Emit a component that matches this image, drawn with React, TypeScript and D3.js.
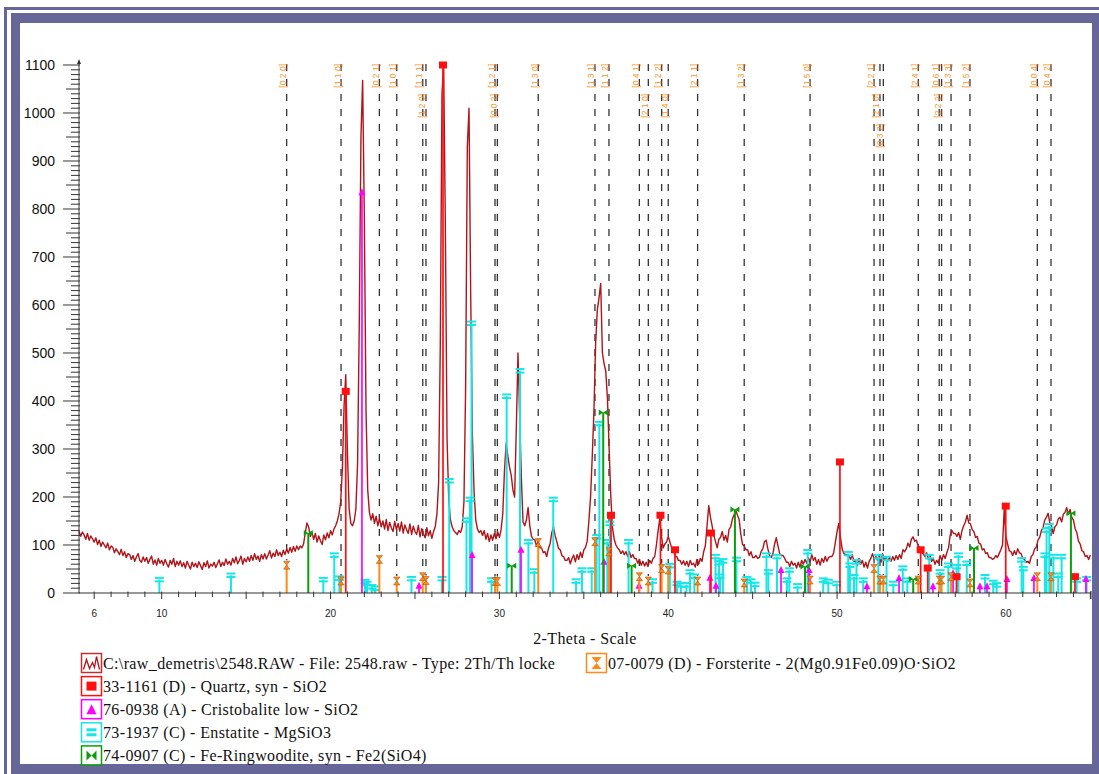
import React from "react";
import * as d3 from "d3";

// raw scan, constant step
const scanStart = 5.1;
const scanStep = 0.1;
const scanCounts = [
  128, 118, 127, 121, 112, 124, 110, 119, 113, 106,
  115, 101, 110, 97, 106, 100, 94, 104, 90, 98,
  95, 84, 92, 86, 80, 91, 78, 86, 74, 82,
  80, 70, 78, 66, 75, 82, 68, 64, 75, 66,
  74, 62, 70, 77, 60, 69, 58, 72, 62, 68,
  58, 70, 61, 54, 68, 60, 72, 55, 66, 58,
  67, 55, 63, 52, 66, 58, 50, 64, 55, 62,
  53, 65, 57, 49, 63, 55, 67, 52, 60, 56,
  64, 53, 61, 69, 55, 64, 57, 71, 60, 66,
  58, 72, 63, 75, 61, 68, 77, 60, 72, 65,
  75, 66, 78, 68, 82, 70, 77, 66, 80, 71,
  82, 71, 79, 88, 73, 83, 76, 90, 78, 85,
  76, 89, 80, 92, 83, 95, 85, 97, 87, 98,
  90, 98, 94, 102, 125, 146, 138, 118, 126, 112,
  124, 106, 119, 109, 101, 121, 111, 125, 115, 130,
  121, 133, 140, 150, 165, 190, 260, 390, 455, 290,
  175, 145, 140, 150, 175, 270, 560, 950, 1068, 780,
  380, 215, 168, 152, 165, 145, 160, 140, 155, 138,
  150, 133, 153, 130, 147, 136, 128, 149, 132, 145,
  129, 148, 125, 142, 132, 124, 144, 122, 139, 128,
  122, 141, 117, 134, 124, 115, 136, 119, 130, 114,
  128, 138, 165, 230, 520, 1040, 1100, 760, 320, 195,
  152, 138, 130, 126, 122, 130, 126, 138, 190, 430,
  930, 1010, 620, 330, 210, 152, 133, 126, 130, 120,
  130, 112, 124, 107, 121, 110, 124, 113, 127, 116,
  132, 165, 255, 312, 285, 262, 245, 215, 200, 340,
  500, 370, 240, 148, 140, 152, 178, 140, 118, 112,
  110, 98, 108, 94, 94, 84, 86, 76, 92, 102,
  125, 138, 120, 107, 93, 90, 78, 76, 68, 68,
  74, 61, 72, 79, 65, 80, 70, 85, 74, 90,
  95, 108, 150, 200, 285, 380, 520, 590, 615, 645,
  500, 478, 462, 405, 300, 200, 135, 112, 100, 94,
  90, 82, 88, 80, 86, 76, 86, 74, 80, 72,
  72, 62, 70, 58, 66, 56, 64, 55, 68, 62,
  72, 76, 100, 130, 155, 118, 94, 102, 106, 118,
  106, 94, 90, 78, 76, 68, 68, 60, 67, 58,
  66, 55, 68, 59, 62, 54, 70, 60, 72, 66,
  86, 99, 140, 182, 158, 140, 120, 107, 94, 112,
  116, 128, 110, 120, 106, 132, 138, 154, 163, 172,
  162, 153, 122, 101, 98, 90, 90, 78, 86, 74,
  74, 78, 72, 74, 86, 92, 107, 110, 92, 78,
  74, 82, 102, 115, 98, 82, 78, 78, 72, 64,
  64, 55, 66, 58, 62, 52, 64, 54, 68, 60,
  70, 62, 74, 64, 80, 68, 74, 60, 70, 58,
  72, 64, 76, 66, 74, 76, 76, 84, 106, 128,
  145, 116, 92, 82, 80, 80, 78, 70, 80, 66,
  66, 58, 72, 60, 68, 54, 64, 52, 66, 72,
  82, 70, 76, 68, 80, 64, 82, 68, 74, 66,
  74, 66, 76, 68, 78, 70, 80, 72, 90, 86,
  92, 104, 96, 112, 117, 108, 110, 99, 94, 84,
  82, 76, 84, 70, 78, 66, 72, 60, 68, 62,
  78, 68, 80, 72, 84, 94, 120, 130, 124, 124,
  118, 126, 112, 130, 140, 148, 162, 146, 144, 132,
  128, 116, 118, 104, 102, 90, 92, 82, 84, 74,
  74, 70, 72, 78, 74, 82, 90, 100, 174, 118,
  102, 88, 86, 78, 88, 80, 92, 84, 82, 72,
  70, 64, 66, 62, 76, 80, 92, 96, 110, 116,
  130, 136, 152, 158, 166, 146, 140, 124, 138, 142,
  154, 158, 148, 164, 168, 178, 164, 174, 158, 152,
  134, 126, 108, 102, 88, 86, 76, 78, 70, 79,
];

// 33-1161 Quartz
const quartzTheta = [20.9, 26.66, 36.61, 39.54, 40.4, 42.53, 50.17, 54.95, 55.37, 57.08, 59.99, 64.09];
const quartzCounts = [420, 1100, 162, 162, 90, 125, 273, 90, 52, 34, 181, 34];

// 76-0938 Cristobalite low
const cristobaliteTheta = [21.86, 25.24, 28.38, 31.28, 36.19, 38.27, 42.47, 42.83, 46.68, 48.34, 51.77, 53.67, 55.68, 56.87, 58.46, 58.88, 60.06, 61.66, 64.74];
const cristobaliteCounts = [835, 15, 79, 90, 65, 15, 32, 15, 48, 48, 14, 31, 14, 41, 14, 14, 29, 31, 29];

// 73-1937 Enstatite
const enstatiteTheta = [
  9.86, 14.1, 19.57, 20.22, 20.52, 22.04, 22.16, 22.44, 22.63, 24.79,
  26.6, 27.03, 28.05, 28.26, 28.35, 29.53, 30.43, 31.22, 31.72, 32.07,
  33.19, 34.54, 34.89, 35.47, 35.76, 35.92, 36.39, 36.55, 37.65, 39.07,
  40.1, 40.52, 40.75, 41.08, 41.29, 41.55, 42.8, 43.01, 43.07, 43.24,
  44.04, 44.66, 44.9, 45.14, 45.82, 45.93, 46.44, 47.03, 47.17, 47.66,
  48.26, 49.18, 49.48, 49.98, 50.66, 50.76, 51.0, 51.15, 51.55, 52.44,
  52.93, 53.33, 53.89, 54.16, 55.46, 56.1, 56.59, 57.08, 57.19, 57.68,
  58.76, 59.25, 59.45, 60.93, 61.03, 62.31, 62.41, 62.57, 62.81, 63.1,
  63.3, 64.19, 64.78,
];
const enstatiteCounts = [
  28, 37, 28, 79, 31, 24, 20, 13, 10, 30,
  30, 234, 152, 195, 562, 27, 410, 463, 107, 46,
  195, 25, 48, 48, 117, 353, 107, 145, 107, 25,
  57, 20, 17, 17, 44, 35, 76, 63, 35, 67,
  70, 30, 25, 18, 79, 44, 76, 27, 48, 15,
  86, 27, 24, 20, 82, 58, 34, 65, 27, 76,
  72, 20, 52, 27, 76, 44, 58, 55, 79, 62,
  34, 22, 17, 69, 51, 79, 131, 140, 76, 37,
  76, 27, 30,
];

// 74-0907 Fe-Ringwoodite
const ringwooditeTheta = [18.68, 30.73, 36.15, 37.83, 43.95, 48.1, 54.51, 58.11, 63.85];
const ringwooditeCounts = [125, 57, 376, 57, 174, 55, 29, 94, 166];

// 07-0079 Forsterite, with hkl
const forsteriteTheta = [17.4, 20.62, 22.89, 23.92, 25.46, 25.65, 29.74, 29.88, 32.3, 35.66, 36.49, 38.29, 38.82, 39.61, 40.0, 41.74, 44.5, 48.4, 52.19, 52.54, 52.74, 54.81, 56.05, 56.19, 56.75, 57.87, 61.86, 62.67];
const forsteriteCounts = [58, 25, 70, 25, 34, 26, 24, 24, 105, 107, 86, 34, 25, 51, 48, 25, 21, 27, 51, 27, 27, 27, 27, 27, 34, 21, 34, 34];
const forsteriteHkl = ["[0 2 0]", "[1 1 0]", "[0 2 1]", "[1 0 1]", "[1 1 1]", "[1 2 0]", "[1 2 1]", "[0 0 2]", "[1 3 0]", "[1 3 1]", "[1 1 2]", "[0 4 1]", "[2 1 0]", "[1 2 2]", "[1 4 0]", "[2 1 1]", "[1 3 2]", "[1 5 0]", "[2 2 1]", "[2 1 0]", "[0 3 2]", "[2 4 1]", "[0 6 1]", "[2 2 2]", "[1 3 3]", "[1 5 2]", "[0 0 4]", "[0 4 2]"];

const xTickLabels = [6, 10, 20, 30, 40, 50, 60];
const yTickLabels = [0, 100, 200, 300, 400, 500, 600, 700, 800, 900, 1000, 1100];

const legendLeft = [
  "C:\\raw_demetris\\2548.RAW - File: 2548.raw - Type: 2Th/Th locke",
  "33-1161 (D) - Quartz, syn - SiO2",
  "76-0938 (A) - Cristobalite low - SiO2",
  "73-1937 (C) - Enstatite - MgSiO3",
  "74-0907 (C) - Fe-Ringwoodite, syn - Fe2(SiO4)",
];
const legendRight = "07-0079 (D) - Forsterite - 2(Mg0.91Fe0.09)O\u00B7SiO2";

const PURPLE = "#666699";
const SCAN = "#B01418";
const QZ = "#FF1010";
const CR = "#FF00FF";
const EN = "#16E6E6";
const RW = "#0A9E0A";
const FO = "#FF8A1A";
const HKL = "#F7962E";
const SERIF = "Liberation Serif, Times New Roman, serif";
const SANS = "Liberation Sans, Arial, sans-serif";

function quartzMark(x: number, y: number) {
  return <rect x={x - 4} y={y - 3.5} width={8} height={7} fill={QZ} />;
}
function cristMark(x: number, y: number) {
  return <path d={`M${x - 3.5},${y + 3}L${x},${y - 4}L${x + 3.5},${y + 3}Z`} fill={CR} />;
}
function enstMark(x: number, y: number) {
  return (
    <g fill={EN}>
      <rect x={x - 4.5} y={y - 2.7} width={9} height={2} />
      <rect x={x - 4.5} y={y + 0.8} width={9} height={2} />
    </g>
  );
}
function ringMark(x: number, y: number) {
  return (
    <path
      d={`M${x - 4.5},${y - 3}L${x},${y}L${x - 4.5},${y + 3}ZM${x + 4.5},${y - 3}L${x},${y}L${x + 4.5},${y + 3}Z`}
      fill={RW}
    />
  );
}
function forstMark(x: number, y: number) {
  return (
    <path
      d={`M${x - 3.2},${y - 4}L${x + 3.2},${y - 4}L${x},${y}ZM${x - 3.2},${y + 4}L${x + 3.2},${y + 4}L${x},${y}Z`}
      fill={FO}
      stroke="#9a4a00"
      strokeWidth={0.5}
    />
  );
}

export default function App() {
  const x = d3.scaleLinear().domain([5.1, 65.04]).range([79, 1091]);
  const y = d3.scaleLinear().domain([0, 1100]).range([593, 65]);
  const y0 = y(0);

  const scan: [number, number][] = scanCounts.map((c, i) => [scanStart + i * scanStep, c]);
  const scanPath = d3
    .line<[number, number]>()
    .x((d) => x(d[0]))
    .y((d) => y(d[1]))(scan) as string;

  const sticks = (
    theta: number[],
    counts: number[],
    color: string,
    width: number,
    mark: (x: number, y: number) => React.ReactNode,
    key: string
  ) =>
    theta.map((t, i) => (
      <g key={key + i}>
        <line x1={x(t)} x2={x(t)} y1={y0} y2={y(counts[i])} stroke={color} strokeWidth={width} />
        {mark(x(t), y(counts[i]))}
      </g>
    ));

  // stack hkl labels when too close
  const lastAt: number[] = [];
  const levels = forsteriteTheta.map((t) => {
    let l = 0;
    while (lastAt[l] !== undefined && t - lastAt[l] < 0.6) l++;
    lastAt[l] = t;
    return l;
  });

  const minorY = d3.range(0, 1101, 10);
  const degTicks = d3.range(6, 66, 1);

  return (
    <svg
      width={1099}
      height={774}
      style={{ position: "absolute", left: 0, top: 0, background: "#fff" }}
    >
      {/* frame */}
      <rect x={4} y={7} width={1095} height={3} fill={PURPLE} />
      <rect x={4} y={7} width={3} height={767} fill={PURPLE} />
      <rect x={11} y={13} width={1088} height={10} fill={PURPLE} />
      <rect x={11} y={13} width={9} height={761} fill={PURPLE} />
      <rect x={1092} y={13} width={7} height={761} fill={PURPLE} />
      <rect x={11} y={764} width={1088} height={10} fill={PURPLE} />

      {/* hkl dashed lines */}
      {forsteriteTheta.map((t, i) => (
        <line
          key={"d" + i}
          x1={x(t)}
          x2={x(t)}
          y1={64}
          y2={y(forsteriteCounts[i]) - 5}
          stroke="#333"
          strokeWidth={1.3}
          strokeDasharray="7,8"
        />
      ))}

      {/* scan */}
      <path d={scanPath} fill="none" stroke={SCAN} strokeWidth={1.4} strokeLinejoin="round" />

      {/* reference patterns */}
      {sticks(enstatiteTheta, enstatiteCounts, EN, 2, enstMark, "en")}
      {sticks(cristobaliteTheta, cristobaliteCounts, CR, 1.7, cristMark, "cr")}
      {sticks(quartzTheta, quartzCounts, QZ, 1.7, quartzMark, "qz")}
      {sticks(ringwooditeTheta, ringwooditeCounts, RW, 2, ringMark, "rw")}
      {sticks(forsteriteTheta, forsteriteCounts, FO, 2, forstMark, "fo")}

      {/* hkl labels */}
      {forsteriteTheta.map((t, i) => {
        const lx = x(t) - 0.5;
        const ly = 64 + levels[i] * 30;
        return (
          <text
            key={"h" + i}
            transform={`translate(${lx},${ly}) rotate(-90)`}
            textAnchor="end"
            fontFamily={SANS}
            fontSize={8.5}
            fill={HKL}
          >
            {forsteriteHkl[i]}
          </text>
        );
      })}

      {/* y axis */}
      <g stroke="#333" strokeWidth={1}>
        <line x1={79} x2={79} y1={y0} y2={61} />
        {minorY.map((v) => {
          const major = v % 100 === 0;
          const mid = v % 50 === 0;
          return (
            <line
              key={"yt" + v}
              x1={major ? 63 : mid ? 66 : 71}
              x2={80}
              y1={y(v)}
              y2={y(v)}
            />
          );
        })}
      </g>
      <path d="M77,64L79,59L81,64Z" fill="#333" />
      {yTickLabels.map((v) => (
        <text
          key={"yl" + v}
          x={55}
          y={y(v) + 5}
          textAnchor="end"
          fontFamily={SANS}
          fontSize={14}
          fill="#111"
        >
          {v}
        </text>
      ))}

      {/* x axis */}
      <g stroke="#333" strokeWidth={1}>
        <line x1={79} x2={1091} y1={y0} y2={y0} />
        {degTicks.map((d) => {
          const long = d % 5 === 0 || d === 6;
          return <line key={"xt" + d} x1={x(d)} x2={x(d)} y1={y0 - 1.5} y2={y0 + (long ? 6 : 4)} />;
        })}
        <line x1={1091} x2={1091} y1={y0 - 2} y2={y0 + 6} />
      </g>
      {xTickLabels.map((v) => (
        <text
          key={"xl" + v}
          x={x(v)}
          y={617}
          textAnchor="middle"
          fontFamily={SANS}
          fontSize={10}
          fill="#222"
        >
          {v}
        </text>
      ))}
      <text x={585} y={644} textAnchor="middle" fontFamily={SERIF} fontSize={16} letterSpacing={0.4} fill="#111">
        2-Theta - Scale
      </text>

      {/* legend */}
      {legendLeft.map((s, i) => {
        const base = 669 + i * 23.1;
        const bx = 81.5;
        const by = base - 15.5;
        const cx = bx + 10;
        const cy = by + 9.5;
        const colors = ["#C03030", QZ, CR, EN, RW];
        return (
          <g key={"lg" + i}>
            <rect x={bx} y={by} width={20} height={19} fill="#fff" stroke={colors[i]} strokeWidth={1.5} />
            {i === 0 && (
              <path
                d={`M${bx + 2},${by + 16}L${bx + 5},${by + 6}L${bx + 8},${by + 15}L${bx + 11},${by + 9}L${bx + 13},${by + 14}L${bx + 15},${by + 3}L${bx + 18},${by + 16}`}
                fill="none"
                stroke={SCAN}
                strokeWidth={1.3}
              />
            )}
            {i === 1 && <rect x={cx - 5} y={cy - 4.5} width={10} height={9} fill={QZ} />}
            {i === 2 && <path d={`M${cx - 5},${cy + 5}L${cx},${cy - 5}L${cx + 5},${cy + 5}Z`} fill={CR} />}
            {i === 3 && (
              <g fill={EN}>
                <rect x={cx - 5} y={cy - 4} width={10} height={3} />
                <rect x={cx - 5} y={cy + 1} width={10} height={3} />
              </g>
            )}
            {i === 4 && (
              <path
                d={`M${cx - 5},${cy - 5}L${cx},${cy}L${cx - 5},${cy + 5}ZM${cx + 5},${cy - 5}L${cx},${cy}L${cx + 5},${cy + 5}Z`}
                fill={RW}
              />
            )}
            <text x={103} y={base} fontFamily={SERIF} fontSize={16} letterSpacing={0.37} fill="#111">
              {s}
            </text>
          </g>
        );
      })}
      <g>
        <rect x={586.5} y={653.5} width={20} height={19} fill="#fff" stroke={FO} strokeWidth={1.5} />
        <path d="M591.5,657L601.5,657L596.5,663ZM591.5,669L601.5,669L596.5,663Z" fill={FO} />
        <text x={608} y={669} fontFamily={SERIF} fontSize={16} letterSpacing={0.37} fill="#111">
          {legendRight}
        </text>
      </g>
    </svg>
  );
}
